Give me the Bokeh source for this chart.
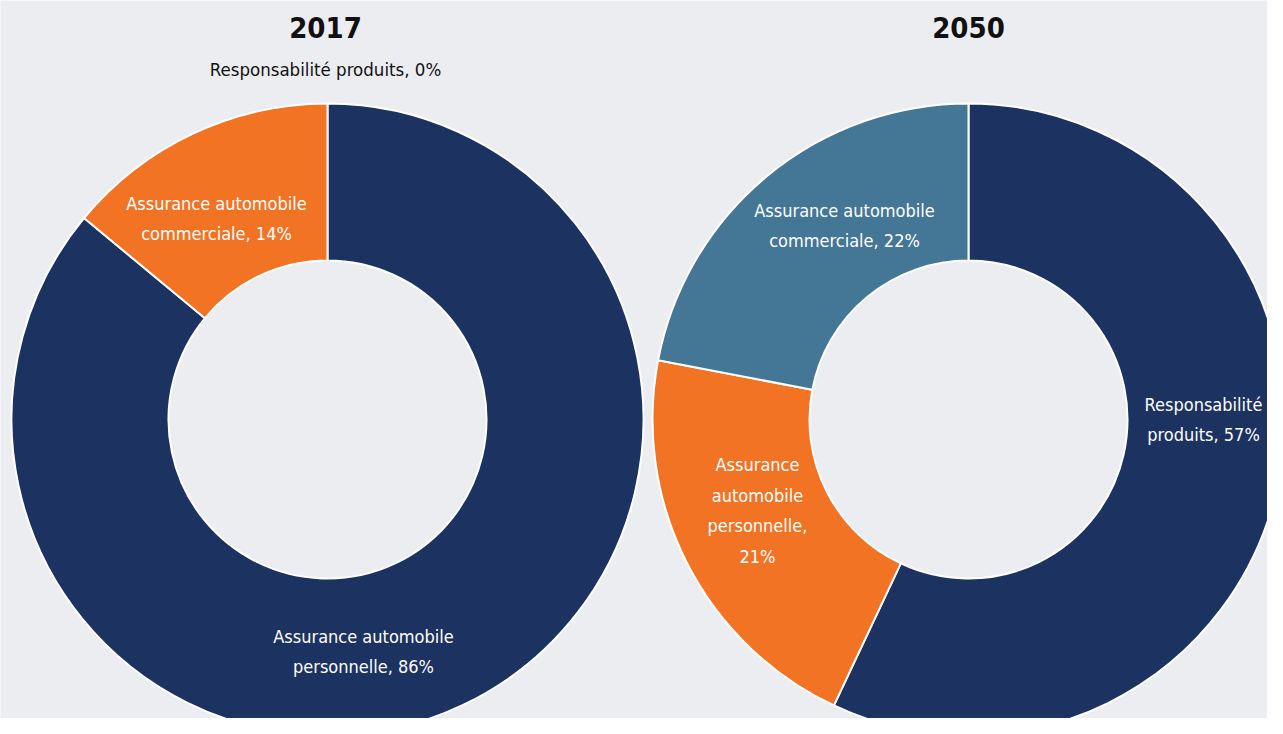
import math
from bokeh.plotting import figure
from bokeh.models import Range1d, ColumnDataSource
from bokeh.core.properties import value
from bokeh.embed import file_html
from bokeh.resources import INLINE

# ---- data ----
years = ["2017", "2050"]
categories = ["Responsabilité produits", "Assurance automobile personnelle", "Assurance automobile commerciale"]
shares_2017 = [0, 86, 14]
shares_2050 = [57, 21, 22]
colors_2017 = ["#1C3260", "#1C3260", "#F37324"]
colors_2050 = ["#1C3260", "#F37324", "#447696"]
labels_2017 = ["Responsabilité produits, 0%",
               "Assurance automobile\npersonnelle, 86%",
               "Assurance automobile\ncommerciale, 14%"]
labels_2050 = ["Responsabilité\nproduits, 57%",
               "Assurance\nautomobile\npersonnelle,\n21%",
               "Assurance automobile\ncommerciale, 22%"]

# ---- layout (screen pixels, converted to data with y = H - ys) ----
W, H = 1283, 734
PW, PH = 1267, 718
FONT = "DejaVu Sans Condensed"
BG = "#ECEDF1"
centers = [(327, 419), (968, 419)]
R_OUT, R_IN = 316, 159
# label offsets from donut centre (dx right, dy down) in pixels
label_offsets_2017 = [None, (36, 232), (-111, -201)]
label_offsets_2050 = [(235, 0), (-211, 91), (-124, -194)]

p = figure(width=PW, height=PH, x_range=Range1d(0, PW), y_range=Range1d(H - PH, H),
           output_backend="svg", toolbar_location=None, min_border=0)
p.background_fill_color = BG
p.border_fill_color = BG
p.outline_line_color = None
p.axis.visible = False
p.grid.visible = False

def donut(center, shares, colors, labels, offsets):
    cx, cy = center
    total = float(sum(shares))
    cum = 0.0
    xs, ys, st, en, fc = [], [], [], [], []
    tx, ty, tt = [], [], []
    for s, c, lab, off in zip(shares, colors, labels, offsets):
        a0 = math.pi / 2 - 2 * math.pi * (cum + s) / total
        a1 = math.pi / 2 - 2 * math.pi * cum / total
        cum += s
        if s > 0:
            xs.append(cx); ys.append(H - cy); st.append(a0); en.append(a1); fc.append(c)
            if off is not None:
                tx.append(cx + off[0]); ty.append(H - (cy + off[1])); tt.append(lab)
    src = ColumnDataSource(dict(x=xs, y=ys, start=st, end=en, color=fc))
    p.annular_wedge(x="x", y="y", inner_radius=R_IN, outer_radius=R_OUT,
                    start_angle="start", end_angle="end", fill_color="color",
                    line_color="white", line_width=2, source=src)
    p.text(x=tx, y=ty, text=tt, text_color="white", text_font=value(FONT),
           text_font_size="18px", text_align="center", text_baseline="middle",
           text_line_height=1.45)

donut(centers[0], shares_2017, colors_2017, labels_2017, label_offsets_2017)
donut(centers[1], shares_2050, colors_2050, labels_2050, label_offsets_2050)

# titles
p.text(x=[325, 968], y=[H - 27, H - 27], text=years, text_color="#111111",
       text_font=value(FONT), text_font_size="29px", text_font_style="bold",
       text_align="center", text_baseline="middle")
# 0% label for 2017 shown above the donut
p.text(x=[325], y=[H - 69], text=[labels_2017[0]], text_color="#111111",
       text_font=value(FONT), text_font_size="18.5px",
       text_align="center", text_baseline="middle")

open("out.html", "w").write(file_html(p, INLINE))
